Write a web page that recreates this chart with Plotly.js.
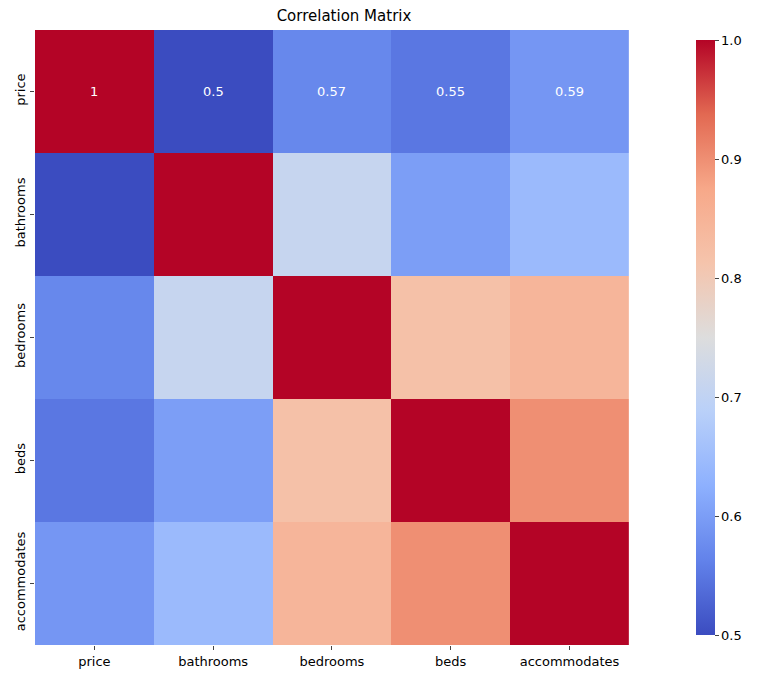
<!DOCTYPE html>
<html><head><meta charset="utf-8">
<script src="https://cdn.plot.ly/plotly-3.0.1.min.js"></script>
<style>body{margin:0}</style></head>
<body><div id="c" style="width:765px;height:680px"></div>
<script>
const labels = ["price","bathrooms","bedrooms","beds","accommodates"];
const row_price = [1, 0.5, 0.57, 0.55, 0.59];
const row_bathrooms = [0.5, 1, 0.71, 0.60, 0.645];
const row_bedrooms = [0.57, 0.71, 1, 0.82, 0.845];
const row_beds = [0.55, 0.60, 0.82, 1, 0.9];
const row_accommodates = [0.59, 0.645, 0.845, 0.9, 1];
const z = [row_price,row_bathrooms,row_bedrooms,row_beds,row_accommodates];
const coolwarm = [[0,'#3b4cc0'],[0.125,'#6282ea'],[0.25,'#8db0fe'],[0.375,'#b9d0f9'],[0.5,'#dddddd'],[0.625,'#f5c4ac'],[0.75,'#f7a889'],[0.875,'#e26952'],[1,'#b40426']];
const ann = row_price.map((v,i)=>({x:labels[i],y:labels[0],text:String(v),showarrow:false,font:{color:'white',size:13,family:'DejaVu Sans'}}));
Plotly.newPlot('c',[{type:'heatmap',x:labels,y:labels,z:z,zmin:0.5,zmax:1,colorscale:coolwarm,
 colorbar:{x:0.9826,xanchor:'left',y:0,yanchor:'bottom',len:1,lenmode:'fraction',thickness:19,outlinewidth:0,ticks:'outside',ticklen:4,tickvals:[0.5,0.6,0.7,0.8,0.9,1.0],ticktext:['0.5','0.6','0.7','0.8','0.9','1.0'],tickfont:{size:13,family:'DejaVu Sans'}}}],
{width:765,height:680,margin:{l:35,r:40,t:30,b:35},paper_bgcolor:'white',plot_bgcolor:'white',
 font:{family:'DejaVu Sans',color:'black',size:13},
 title:{text:'Correlation Matrix',x:(35+309)/765,xanchor:'center',y:1-16/680,yanchor:'middle',font:{size:15,family:'DejaVu Sans'}},
 xaxis:{domain:[0,0.8957],ticks:'outside',ticklen:4,showgrid:false,zeroline:false,tickfont:{size:13}},
 yaxis:{autorange:'reversed',ticks:'outside',ticklen:4,showgrid:false,zeroline:false,tickangle:-90,tickfont:{size:13}},
 annotations:ann},{displayModeBar:false});
</script></body></html>
